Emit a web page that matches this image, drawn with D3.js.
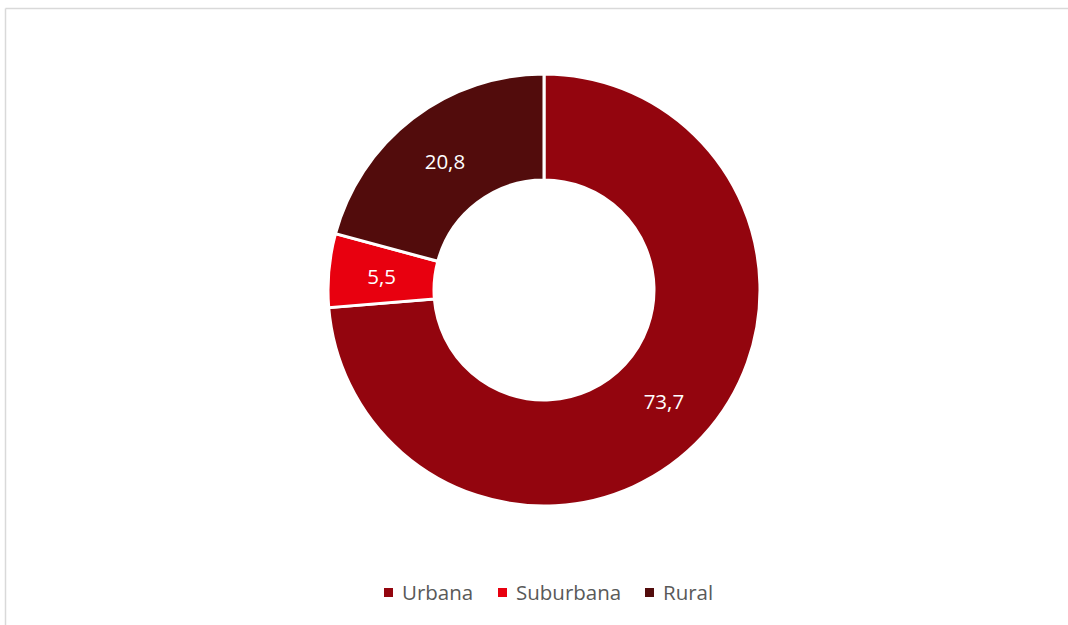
<!DOCTYPE html>
<html>
<head>
  <title></title>
  <script src="https://d3js.org/d3.v7.min.js"></script>
  <style>
    body { margin: 0; background: #fff; }
  </style>
</head>
<body>
<script type="text/javascript">
// data
var categories = ["Urbana", "Suburbana", "Rural"];
var values = [73.7, 5.5, 20.8];
var labels = ["73,7", "5,5", "20,8"];
var colors = ["#93050E", "#E8000F", "#520C0C"];

var width = 1068, height = 625;
var cx = 544, cy = 290, rOuter = 216, rInner = 110;

var svg = d3.select("body")
  .append("svg")
  .attr("width", width)
  .attr("height", height);

// chart frame (top + left edges visible)
svg.append("line").attr("x1", 5.5).attr("x2", 1068).attr("y1", 8.5).attr("y2", 8.5)
  .attr("stroke", "#d9d9d9").attr("stroke-width", 1.5);
svg.append("line").attr("x1", 5.5).attr("x2", 5.5).attr("y1", 8.5).attr("y2", 625)
  .attr("stroke", "#d9d9d9").attr("stroke-width", 1.5);

var color = d3.scaleOrdinal().domain(categories).range(colors);

var pie = d3.pie().sort(null).value(function(d){ return d.val; });
var arc = d3.arc().outerRadius(rOuter).innerRadius(rInner);
var labelArc = d3.arc().outerRadius((rOuter + rInner) / 2).innerRadius((rOuter + rInner) / 2);

var data = categories.map(function(c, i){ return {cat: c, val: values[i], label: labels[i]}; });

var g = svg.append("g").attr("transform", "translate(" + cx + "," + cy + ")");

var slices = g.selectAll(".arc")
  .data(pie(data))
  .enter()
  .append("g")
  .attr("class", "arc");

slices.append("path")
  .attr("d", arc)
  .style("fill", function(d){ return color(d.data.cat); })
  .style("stroke", "#fff")
  .style("stroke-width", 3);

slices.append("text")
  .attr("transform", function(d){ return "translate(" + labelArc.centroid(d) + ")"; })
  .attr("dy", ".42em")
  .attr("text-anchor", "middle")
  .style("font-family", "'Open Sans', sans-serif")
  .style("font-size", "20.5px")
  .style("fill", "#fff")
  .text(function(d){ return d.data.label; });

// legend
var legendX = [384, 498, 645];
var legend = svg.selectAll(".legend")
  .data(categories)
  .enter()
  .append("g")
  .attr("class", "legend")
  .attr("transform", function(d, i){ return "translate(" + legendX[i] + ",593)"; });

legend.append("rect")
  .attr("x", 0).attr("y", -5)
  .attr("width", 9).attr("height", 9)
  .style("fill", function(d){ return color(d); });

legend.append("text")
  .attr("x", 18)
  .attr("dy", ".36em")
  .style("font-family", "'Open Sans', sans-serif")
  .style("font-size", "20.5px")
  .style("fill", "#595959")
  .text(function(d){ return d; });
</script>
</body>
</html>
